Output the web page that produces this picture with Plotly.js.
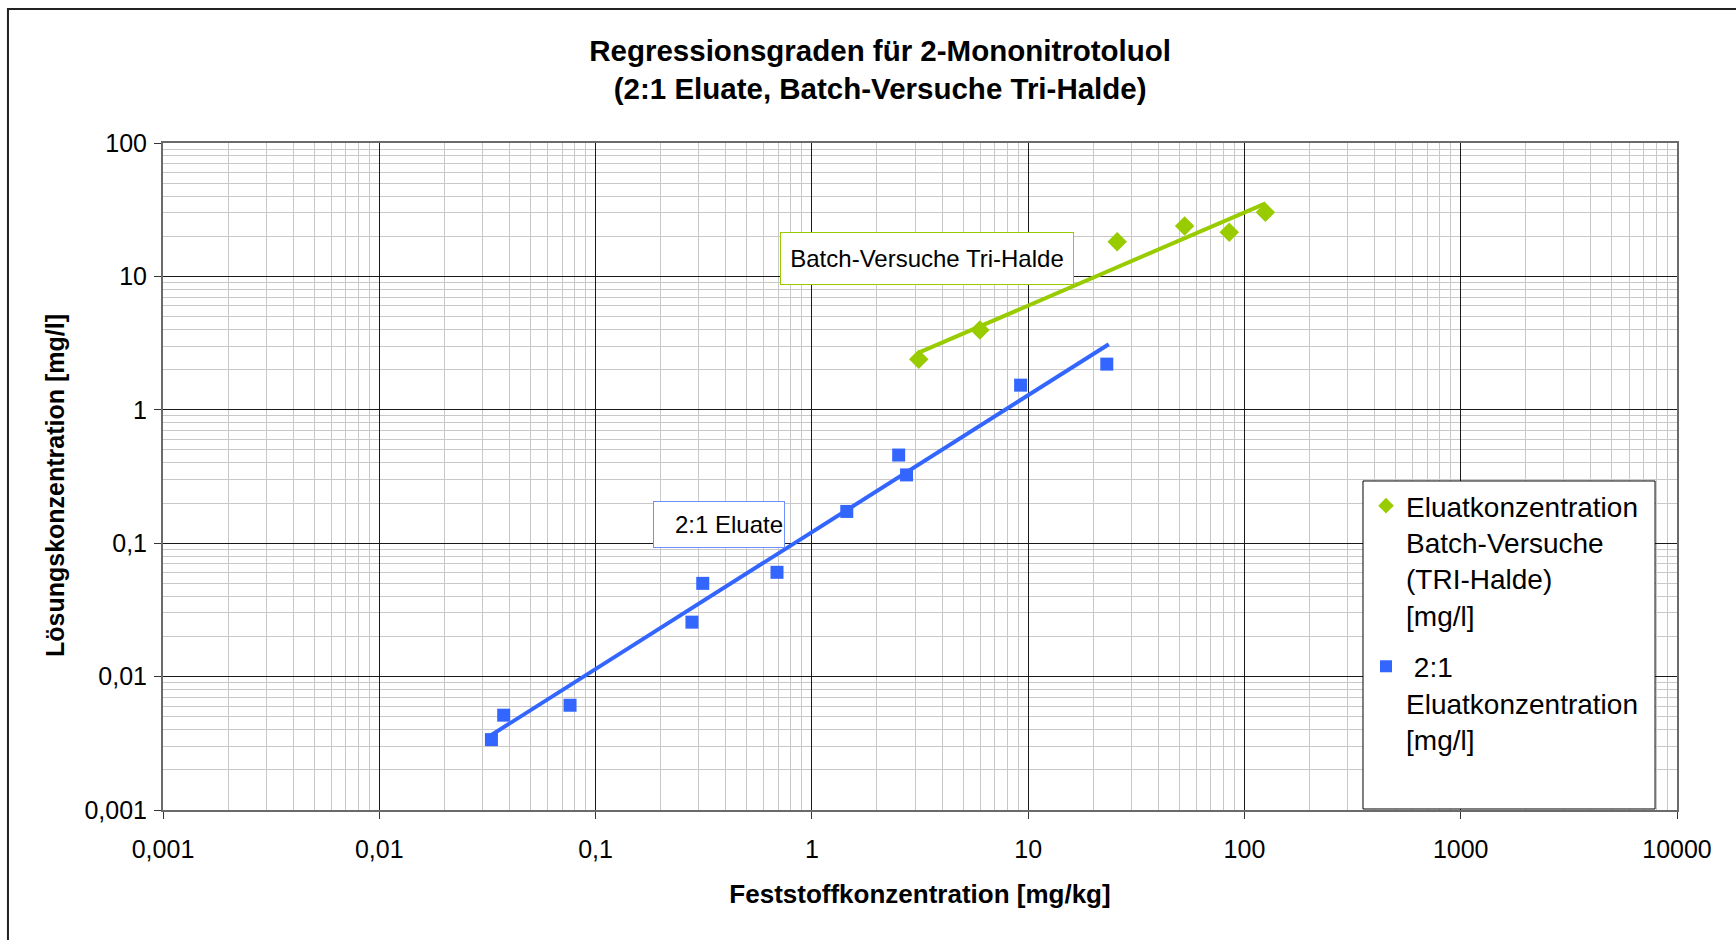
<!DOCTYPE html>
<html>
<head>
<meta charset="utf-8">
<script src="https://cdn.plot.ly/plotly-3.0.1.min.js"></script>
<style>
  html, body { margin: 0; padding: 0; background: #ffffff; }
  #chart { width: 1736px; height: 940px; }
</style>
</head>
<body>
<div id="chart"></div>
<script>
// ---- data ----
const batchX = [3.12, 5.98, 25.8, 52.9, 85.1, 125];
const batchY = [2.39, 3.96, 18.2, 23.9, 21.4, 30.2];

const eluateX = [0.033, 0.0376, 0.0762, 0.279, 0.313, 0.69, 1.45, 2.52, 2.74, 9.23, 23.1];
const eluateY = [0.00337, 0.00514, 0.0061, 0.0256, 0.05, 0.0605, 0.173, 0.458, 0.325, 1.53, 2.2];

// regression lines (power law = straight in log-log), end points
const batchFitX = [3.12, 125.3];
const batchFitY = [2.68, 35.3];
const eluateFitX = [0.033, 23.6];
const eluateFitY = [0.00365, 3.1];

const xTickVals = [0.001, 0.01, 0.1, 1, 10, 100, 1000, 10000];
const xTickText = ['0,001', '0,01', '0,1', '1', '10', '100', '1000', '10000'];
const yTickVals = [0.001, 0.01, 0.1, 1, 10, 100];
const yTickText = ['0,001', '0,01', '0,1', '1', '10', '100'];

const batchName = 'Eluatkonzentration<br>Batch-Versuche<br>(TRI-Halde)<br>[mg/l]';
const eluateName = '\u00a02:1<br>Eluatkonzentration<br>[mg/l]';

const GREEN = '#99cc00';
const BLUE = '#3366ff';
const FONT = 'Liberation Sans, Arial, Helvetica, sans-serif';

const traces = [
  { x: batchFitX, y: batchFitY, type: 'scatter', mode: 'lines',
    line: { color: GREEN, width: 4 }, showlegend: false, hoverinfo: 'skip' },
  { x: eluateFitX, y: eluateFitY, type: 'scatter', mode: 'lines',
    line: { color: BLUE, width: 4 }, showlegend: false, hoverinfo: 'skip' },
  { x: batchX, y: batchY, type: 'scatter', mode: 'markers', name: batchName,
    legendgroup: 'batch',
    marker: { symbol: 'diamond', size: 15, color: GREEN } },
  { x: eluateX, y: eluateY, type: 'scatter', mode: 'markers', name: eluateName,
    legendgroup: 'eluate',
    marker: { symbol: 'square', size: 13, color: BLUE } }
];

const axisCommon = {
  type: 'log',
  showline: true, mirror: true, linecolor: '#6a6a6a', linewidth: 2,
  showgrid: true, gridcolor: '#1a1a1a', gridwidth: 1,
  ticks: 'outside', ticklen: 7, tickcolor: '#333333', tickwidth: 1,
  tickmode: 'array',
  zeroline: false, automargin: false,
  tickfont: { family: FONT, size: 25, color: '#000000' },
  minor: { dtick: 'D1', showgrid: true, gridcolor: '#c8c8c8', gridwidth: 1, ticks: '' }
};

const layout = {
  width: 1736, height: 940,
  paper_bgcolor: '#ffffff', plot_bgcolor: '#ffffff',
  margin: { l: 163, r: 59, t: 143, b: 130, pad: 0 },
  font: { family: FONT, color: '#000000' },
  title: {
    text: '<b>Regressionsgraden für 2-Mononitrotoluol<br>(2:1 Eluate, Batch-Versuche Tri-Halde)</b>',
    font: { family: FONT, size: 29.5, color: '#000000' },
    xref: 'container', x: 0.507, xanchor: 'center',
    yref: 'container', y: 0.935, yanchor: 'middle'
  },
  xaxis: Object.assign({}, axisCommon, {
    range: [-3, 4],
    tickvals: xTickVals, ticktext: xTickText,
    ticklabelstandoff: 9,
    title: { text: '<b>Feststoffkonzentration [mg/kg]</b>', standoff: 23,
             font: { family: FONT, size: 26, color: '#000000' } }
  }),
  yaxis: Object.assign({}, axisCommon, {
    range: [-3, 2],
    tickvals: yTickVals, ticktext: yTickText,
    ticklabelstandoff: 2,
    title: { text: '' }
  }),
  showlegend: true,
  legend: {
    x: 0.7946, xanchor: 'left', y: 0.4933, yanchor: 'top',
    bgcolor: 'rgba(0,0,0,0)', borderwidth: 0,
    valign: 'top', traceorder: 'grouped', tracegroupgap: 12,
    itemsizing: 'constant',
    font: { family: FONT, size: 28, color: '#000000' }
  },
  shapes: [
    // legend box
    { type: 'rect', xref: 'paper', yref: 'paper', layer: 'above',
      x0: 0.7926, x1: 0.9855, y0: 0.0015, y1: 0.4933,
      fillcolor: '#ffffff', line: { color: '#000000', width: 1 } },
    // outer chart frame
    { type: 'rect', xref: 'paper', yref: 'paper', layer: 'below',
      x0: -0.1024, x1: 1.05, y0: -0.21, y1: 1.2009,
      fillcolor: 'rgba(0,0,0,0)', line: { color: '#222222', width: 2 } }
  ],
  annotations: [
    // y-axis title
    { text: '<b>Lösungskonzentration [mg/l]</b>', xref: 'paper', yref: 'paper',
      x: (55 - 163) / 1514, y: (810 - 486) / 667, xanchor: 'center', yanchor: 'middle',
      textangle: -90, showarrow: false,
      font: { family: FONT, size: 25, color: '#000000' } },
    { text: 'Batch-Versuche Tri-Halde', xref: 'paper', yref: 'paper',
      x: 0.5046, y: 0.8268, xanchor: 'center', yanchor: 'middle',
      showarrow: false, width: 290, height: 49, align: 'center',
      bgcolor: '#ffffff', bordercolor: GREEN, borderwidth: 1, borderpad: 1,
      font: { family: FONT, size: 24, color: '#000000' } },
    { text: '2:1 Eluate', xref: 'paper', yref: 'paper',
      x: 0.3672, y: 0.428, xanchor: 'center', yanchor: 'middle',
      showarrow: false, width: 128, height: 43, align: 'right',
      bgcolor: '#ffffff', bordercolor: '#6f8fff', borderwidth: 1, borderpad: 1,
      font: { family: FONT, size: 24, color: '#000000' } }
  ]
};

Plotly.newPlot('chart', traces, layout, { staticPlot: true, displayModeBar: false });
</script>
</body>
</html>
